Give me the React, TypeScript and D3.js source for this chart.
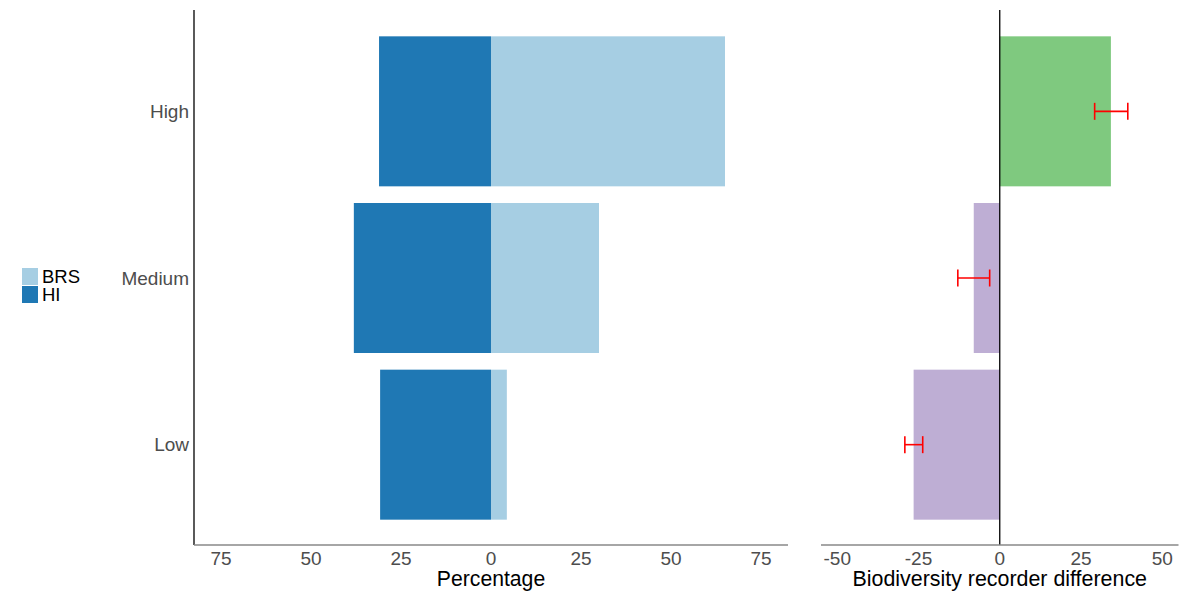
import React from "react";
import * as d3 from "d3";

const categories = ["High", "Medium", "Low"];
const hiValues = [31.1, 38.1, 30.8];
const brsValues = [65.0, 30.0, 4.4];
const diffValues = [34.2, -8.0, -26.5];
const diffLow = [29.2, -12.9, -29.2];
const diffHigh = [39.4, -3.1, -23.7];
const leftTicks = [-75, -50, -25, 0, 25, 50, 75];
const rightTicks = [-50, -25, 0, 25, 50];
const legendLabels = ["BRS", "HI"];

const FONT = "'Liberation Sans', Arial, sans-serif";

export default function App() {
  const top = 10, bottom = 545;
  const y = d3.scaleBand<string>().domain(categories).range([28, 528]).paddingInner(0.1).paddingOuter(0.05);
  const xl = d3.scaleLinear().domain([-82.5, 82.5]).range([194, 788]);
  const xr = d3.scaleLinear().domain([-55, 55]).range([821, 1178.5]);
  const bw = y.bandwidth();
  const colBRS = "#a6cee3", colHI = "#1f78b4";
  return (
    <svg width={1200} height={600} style={{ display: "block", position: "absolute", left: 0, top: 0 }} fontFamily={FONT}>
      <rect width={1200} height={600} fill="#fff" />
      {/* legend */}
      <rect x={22} y={268} width={16} height={17} fill={colBRS} />
      <rect x={22} y={286} width={16} height={17} fill={colHI} />
      <text x={42} y={283} fontSize={18.5} fill="#000">{legendLabels[0]}</text>
      <text x={42} y={301} fontSize={18.5} fill="#000">{legendLabels[1]}</text>
      {/* left panel bars */}
      {categories.map((c, i) => (
        <g key={c}>
          <rect x={xl(-hiValues[i])} y={y(c)} width={xl(0) - xl(-hiValues[i])} height={bw} fill={colHI} />
          <rect x={xl(0)} y={y(c)} width={xl(brsValues[i]) - xl(0)} height={bw} fill={colBRS} />
          <text x={189} y={(y(c) as number) + bw / 2} dy="0.35em" textAnchor="end" fontSize={19} fill="#4d4d4d">{c}</text>
        </g>
      ))}
      <line x1={194} x2={194} y1={top} y2={bottom} stroke="#000" strokeWidth={1.3} />
      <line x1={194} x2={788} y1={bottom} y2={bottom} stroke="#888" strokeWidth={1.3} />
      {leftTicks.map((t) => (
        <text key={t} x={xl(t)} y={564.5} textAnchor="middle" fontSize={19} fill="#4d4d4d">{Math.abs(t)}</text>
      ))}
      <text x={xl(0)} y={585.5} textAnchor="middle" fontSize={21.2} fill="#000">Percentage</text>
      {/* right panel */}
      {categories.map((c, i) => {
        const v = diffValues[i];
        const cy = (y(c) as number) + bw / 2;
        return (
          <g key={c}>
            <rect x={Math.min(xr(0), xr(v))} y={y(c)} width={Math.abs(xr(v) - xr(0))} height={bw} fill={v >= 0 ? "#7fc97f" : "#beaed4"} />
            <g stroke="#ff0000" strokeWidth={1.6}>
              <line x1={xr(diffLow[i])} x2={xr(diffHigh[i])} y1={cy} y2={cy} />
              <line x1={xr(diffLow[i])} x2={xr(diffLow[i])} y1={cy - 8.5} y2={cy + 8.5} />
              <line x1={xr(diffHigh[i])} x2={xr(diffHigh[i])} y1={cy - 8.5} y2={cy + 8.5} />
            </g>
          </g>
        );
      })}
      <line x1={xr(0)} x2={xr(0)} y1={top} y2={bottom} stroke="#000" strokeWidth={1.3} />
      <line x1={821} x2={1178.5} y1={bottom} y2={bottom} stroke="#888" strokeWidth={1.3} />
      {rightTicks.map((t) => (
        <text key={t} x={xr(t)} y={564.5} textAnchor="middle" fontSize={19} fill="#4d4d4d">{t}</text>
      ))}
      <text x={xr(0)} y={585.5} textAnchor="middle" fontSize={21.4} fill="#000">Biodiversity recorder difference</text>
    </svg>
  );
}
